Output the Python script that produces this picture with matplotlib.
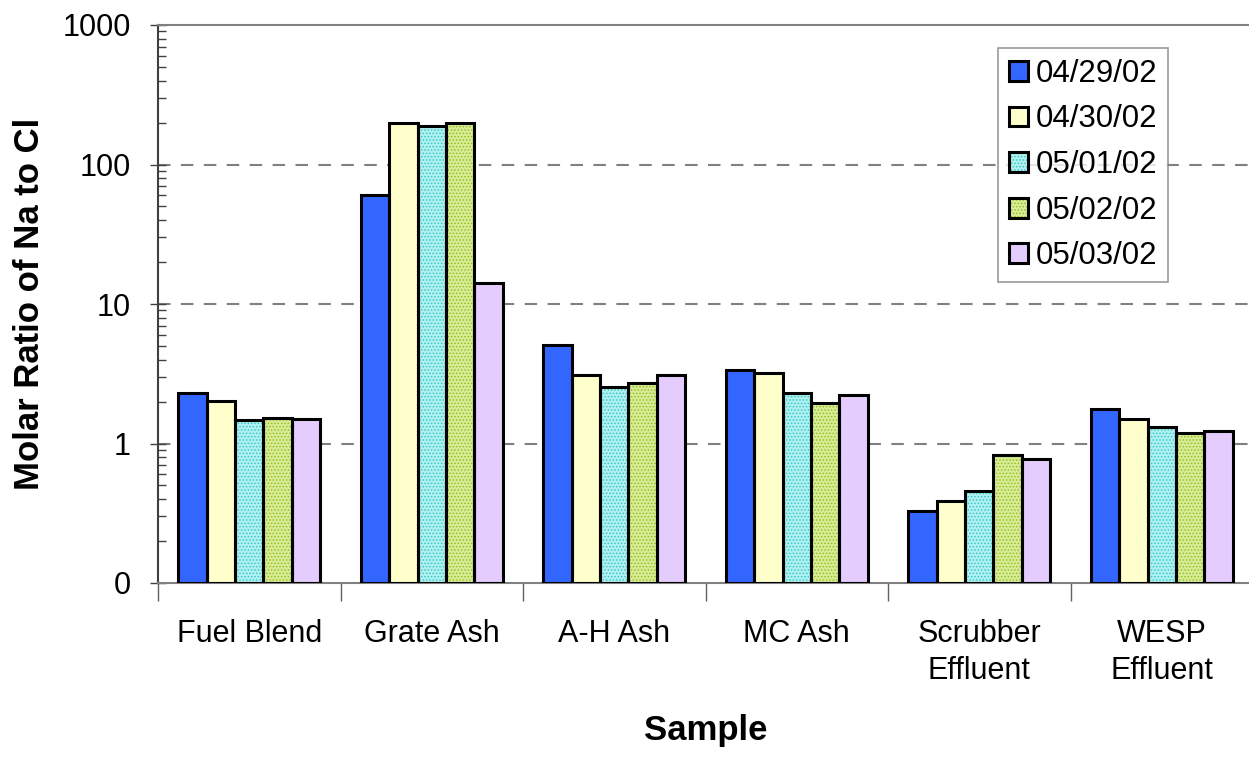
import numpy as np
import matplotlib
matplotlib.use("Agg")
import matplotlib.pyplot as plt
from matplotlib.ticker import FixedLocator, LogLocator, NullFormatter, FuncFormatter
from matplotlib.legend_handler import HandlerTuple

plt.rcParams['font.family'] = ['Liberation Sans', 'DejaVu Sans']
plt.rcParams['hatch.linewidth'] = 0.7

# Molar ratio of Na to Cl by sample, one list per sampling date
samples = ['Fuel Blend', 'Grate Ash', 'A-H Ash', 'MC Ash', 'Scrubber\nEffluent', 'WESP\nEffluent']
dates = ['04/29/02', '04/30/02', '05/01/02', '05/02/02', '05/03/02']
d0429 = [2.29, 60.2, 5.07, 3.39, 0.327, 1.76]
d0430 = [2.01, 200, 3.09, 3.19, 0.386, 1.49]
d0501 = [1.47, 188, 2.55, 2.31, 0.455, 1.31]
d0502 = [1.52, 200, 2.72, 1.94, 0.824, 1.19]
d0503 = [1.50, 14.2, 3.09, 2.22, 0.776, 1.22]
series = [d0429, d0430, d0501, d0502, d0503]

# fill colour, hatch colour, hatch pattern (Excel-like dithered fills)
styles = [
    ('#3366FF', None, None),
    ('#FFFFCC', None, None),
    ('#B0F0F0', '#38C8C8', '.....'),
    ('#D8EC98', '#96C020', '.....'),
    ('#E5CCFF', None, None),
]

base = 0.1
fig = plt.figure(figsize=(12.49, 7.57), dpi=100)
ax = fig.add_axes([158 / 1249, 174 / 757, 1095 / 1249, 558 / 757])
ax.set_yscale('log')

x = np.arange(len(samples))
w = 0.156
handles = []
for k, vals in enumerate(series):
    fc, hc, hatch = styles[k]
    pos = x + (k - 2) * w
    heights = [v - base for v in vals]
    if hatch:
        filled = ax.bar(pos, heights, w, bottom=base, color=fc, edgecolor=hc,
                        hatch=hatch, linewidth=0, zorder=2)
    else:
        filled = ax.bar(pos, heights, w, bottom=base, color=fc, linewidth=0, zorder=2)
    outline = ax.bar(pos, heights, w, bottom=base, fill=False, edgecolor='black',
                     linewidth=2.2, zorder=3)
    handles.append((filled[0], outline[0]))

ax.set_xlim(-0.5, len(samples) - 0.5)
ax.set_ylim(0.1, 1000)

# y axis: decades labelled, bottom decade shown as 0
ax.yaxis.set_major_locator(FixedLocator([0.1, 1, 10, 100, 1000]))
ax.yaxis.set_major_formatter(FuncFormatter(lambda v, p: '0' if v < 0.5 else '%d' % v))
ax.yaxis.set_minor_locator(LogLocator(base=10, subs=np.arange(2, 10)))
ax.yaxis.set_minor_formatter(NullFormatter())
ax.tick_params(axis='y', which='major', direction='inout', length=11, width=1,
               color='#404040', labelsize=22, pad=14)
ax.tick_params(axis='y', which='minor', direction='in', length=6, width=1, color='#404040')

# x axis: labels at the group centres, tick marks between groups
ax.set_xticks(x)
ax.set_xticklabels(samples, linespacing=1.3)
ax.set_xticks(np.arange(len(samples) + 1) - 0.5, minor=True)
ax.tick_params(axis='x', which='major', length=0, labelsize=22, pad=26)
ax.tick_params(axis='x', which='minor', direction='out', length=13, width=1, color='#606060')

for y in [1, 10, 100]:
    ax.axhline(y, color='#808080', linewidth=1.5, linestyle=(0, (6, 5)), zorder=1)

for side in ['left', 'bottom', 'top']:
    ax.spines[side].set_color('#808080')
    ax.spines[side].set_linewidth(1.5)
ax.spines['left'].set_color('#404040')
ax.spines['right'].set_visible(False)

ax.set_ylabel('Molar Ratio of Na to Cl', fontsize=25, fontweight='bold', labelpad=12)
ax.set_xlabel('Sample', fontsize=25, fontweight='bold', labelpad=20)

leg = ax.legend(handles, dates, handler_map={tuple: HandlerTuple(ndivide=1, pad=0)},
                loc='upper left', bbox_to_anchor=(0.767, 0.959), fontsize=22.5,
                frameon=True, fancybox=False, edgecolor='#808080',
                handlelength=0.6, handleheight=0.6, handletextpad=0.25,
                labelspacing=0.5, borderpad=0.35, borderaxespad=0)
leg.get_frame().set_linewidth(1.2)

fig.savefig('out.png', dpi=100)
